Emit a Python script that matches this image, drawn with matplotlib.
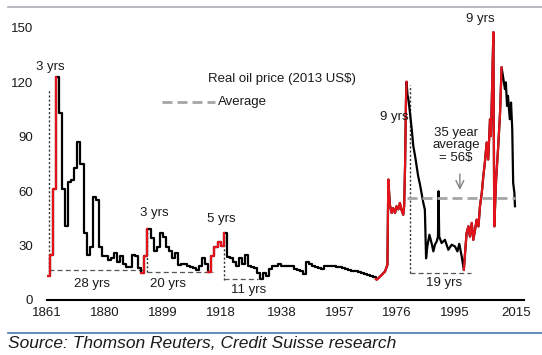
import numpy as np
import matplotlib
matplotlib.use("Agg")
import matplotlib.pyplot as plt
from matplotlib.lines import Line2D

plt.rcParams['font.family'] = ['Liberation Sans', 'DejaVu Sans']

# annual real oil price 1861-1969 (2013 US$), drawn as steps
years_annual = np.arange(1861, 1970)
price_annual = [
    13, 25, 61, 123, 103, 61, 41, 65, 66, 73,            # 1861-1870
    87, 75, 37, 25, 29, 57, 55, 29, 24, 24,              # 1871-1880
    22, 23, 26, 21, 24, 20, 18, 18, 25, 24,              # 1881-1890
    17.5, 15, 24, 39, 34, 27, 29.5, 37, 35, 29.5,        # 1891-1900
    27, 23, 26, 19.5, 20, 20, 19, 18, 17.5, 16.5,        # 1901-1910
    19, 23, 20, 15.5, 24, 29, 32, 30, 37, 23.6,          # 1911-1920
    23, 21, 19, 23, 20, 25, 19, 18, 17.5, 15,            # 1921-1930
    11.5, 15, 13, 17, 18.5, 19, 20, 19, 19, 18.5,        # 1931-1940
    19, 17, 16.6, 16, 14.5, 20.7, 20, 19, 18, 17.5,      # 1941-1950
    17, 18.5, 18.5, 18.5, 18.5, 18, 18, 17.8, 17, 16.5,  # 1951-1960
    16, 15.8, 15.5, 15, 14.5, 14, 13.5, 12.5, 11.5,      # 1961-1969
]

# denser series from 1969 onwards
years_recent = [
    1969.3, 1969.8, 1970.9, 1972.0, 1972.8, 1973.1, 1973.6, 1974.2, 1974.7, 1975.3,
    1975.8, 1976.4, 1976.9, 1977.4, 1978.0, 1978.3, 1978.6, 1978.9, 1979.1, 1979.4,
    1979.7, 1980.2, 1980.8, 1981.3, 1981.9, 1982.4, 1982.9, 1983.5, 1984.1, 1984.6,
    1985.1, 1985.5, 1985.9, 1986.6, 1987.3, 1987.9, 1988.4, 1989.0, 1989.4, 1989.6,
    1989.8, 1990.6, 1991.7, 1992.8, 1993.9, 1995.0, 1995.8, 1996.4, 1997.2, 1997.9,
    1998.3, 1998.8, 1999.4, 1999.9, 2000.5, 2001.0, 2001.6, 2002.1, 2002.7, 2003.2,
    2003.8, 2004.3, 2004.8, 2005.4, 2005.9, 2006.5, 2006.8, 2007.2, 2007.6, 2007.9,
    2008.5, 2009.2, 2009.8, 2010.3, 2010.9, 2011.4, 2011.7, 2012.1, 2012.4, 2013.0,
    2013.4, 2013.8, 2014.1, 2014.5, 2014.7,
]
price_recent = [
    11.4, 12.0, 13.8, 15.7, 19.4, 66.4, 52.6, 48, 50.7, 48,
    51.7, 50, 53.5, 49.8, 47, 52, 74, 110, 120.3, 113,
    110.7, 103.4, 94, 84.9, 79.3, 73.8, 68.3, 63.7, 58.1, 53.5,
    49.8, 23, 29.5, 36, 31.4, 26.8, 30.5, 32.3, 35, 60,
    35, 31.4, 33.2, 27.7, 30.5, 29.5, 26.8, 31, 24, 16.6,
    25.8, 36.9, 40.6, 35, 42.5, 33.2, 38.8, 44.3, 40.6, 51.7,
    59.1, 68.3, 75.7, 86.8, 77.5, 99.7, 90.4, 118, 147.7, 40.6,
    66.4, 84.9, 103.4, 128.3, 121.8, 116.3, 120, 107, 112.6, 99.7,
    108.9, 94.1, 64.6, 59.1, 51.7,
]

# rising periods shown in red (start, end)
red_annual = [(1861, 1864), (1892, 1894), (1914, 1919)]
red_recent = [(1969, 1979.1), (1997.9, 2010.3)]

avg_value = 56
avg_span = (1979.1, 2014.7)

# dotted verticals (x, y0, y1) and dashed horizontals (y, x0, x1)
guides_v = [(1861.6, 15.5, 116), (1893.7, 15.5, 39), (1919.1, 11, 36), (1980.2, 15, 118.5)]
guides_h = [(16.5, 1861.6, 1892.5), (15.5, 1893.7, 1915.5), (11.5, 1919.1, 1930.3), (15, 1980.2, 2000.3)]

# duration labels (text, x, y)
labels = [("3 yrs", 1862, 128.5), ("28 yrs", 1875.8, 8.9), ("3 yrs", 1896.1, 48.2),
          ("20 yrs", 1900.7, 8.9), ("5 yrs", 1918.1, 44.9), ("11 yrs", 1927.3, 5.5),
          ("9 yrs", 1975, 100.8), ("19 yrs", 1991.4, 9.4), ("9 yrs", 2003.2, 155)]

xticks = [1861, 1880, 1899, 1918, 1938, 1957, 1976, 1995, 2015]
yticks = [0, 30, 60, 90, 120, 150]

RED = '#e3121b'
TXT = '#1a1a1a'

fig = plt.figure(figsize=(5.42, 3.55), dpi=100)
ax = fig.add_axes([47/542, 55/355, 477/542, 272/355])

ya = np.array(years_annual)
pa = np.array(price_annual)
ax.plot(ya, pa, color='black', lw=1.6, drawstyle='steps-post', zorder=3)
for a, b in red_annual:
    m = (ya >= a) & (ya <= b)
    ax.plot(ya[m], pa[m], color=RED, lw=1.6, drawstyle='steps-post', zorder=4)
# bridge from annual to recent data
ax.plot([ya[-1], years_recent[0]], [pa[-1], price_recent[0]], color=RED, lw=1.6, zorder=4)

yr = np.array(years_recent)
pr = np.array(price_recent)
ax.plot(yr, pr, color='black', lw=1.6, zorder=3)
for a, b in red_recent:
    m = (yr >= a) & (yr <= b)
    ax.plot(yr[m], pr[m], color=RED, lw=1.6, zorder=4)

ax.plot(avg_span, [avg_value, avg_value], color='#a6a6a6', lw=2, dashes=(3.6, 1.8), zorder=5)

for x, y0, y1 in guides_v:
    ax.plot([x, x], [y0, y1], color='#333333', lw=1, ls=(0, (1.5, 1.5)), zorder=2)
for y, x0, x1 in guides_h:
    ax.plot([x0, x1], [y, y], color='#555555', lw=0.9, ls=(0, (4, 2.5)), zorder=2)

for t, x, y in labels:
    ax.text(x, y, t, ha='center', va='center', fontsize=9.5, color=TXT, clip_on=False, zorder=6)

ax.text(1995.3, 85.3, "35 year\naverage\n= 56$", ha='center', va='center', fontsize=9.5,
        color=TXT, linespacing=1.05)
ax.annotate('', xy=(1996.6, 59.2), xytext=(1996.6, 71),
            arrowprops=dict(arrowstyle='->', color='#808080', lw=1, mutation_scale=14))

# legend-like labels
ax.text(1913.9, 121.8, "Real oil price (2013 US$)", ha='left', va='center', fontsize=9.5, color=TXT)
ax.plot([1898.8, 1916.2], [109.1, 109.1], color='#a6a6a6', lw=2, dashes=(3.6, 1.8))
ax.text(1917.2, 109.1, "Average", ha='left', va='center', fontsize=9.5, color=TXT)

ax.set_xlim(1861, 2017.66)
ax.set_ylim(0, 150)
ax.set_xticks(xticks)
ax.set_yticks(yticks)
ax.tick_params(length=0, labelsize=9.5, labelcolor=TXT)
ax.tick_params(axis='y', pad=10)
ax.tick_params(axis='x', pad=5)
for s in ['top', 'right', 'left']:
    ax.spines[s].set_visible(False)
ax.spines['bottom'].set_linewidth(1.5)
ax.spines['bottom'].set_color('black')

fig.add_artist(Line2D([8/542, 1], [348/355, 348/355], color='#a9adb3', lw=1.2))
fig.add_artist(Line2D([8/542, 1], [22/355, 22/355], color='#4a78ad', lw=1.2))
fig.text(8/542, 7/355, "Source: Thomson Reuters, Credit Suisse research", fontsize=12.5,
         style='italic', color=TXT, ha='left', va='baseline')

fig.savefig('out.png', dpi=100)
